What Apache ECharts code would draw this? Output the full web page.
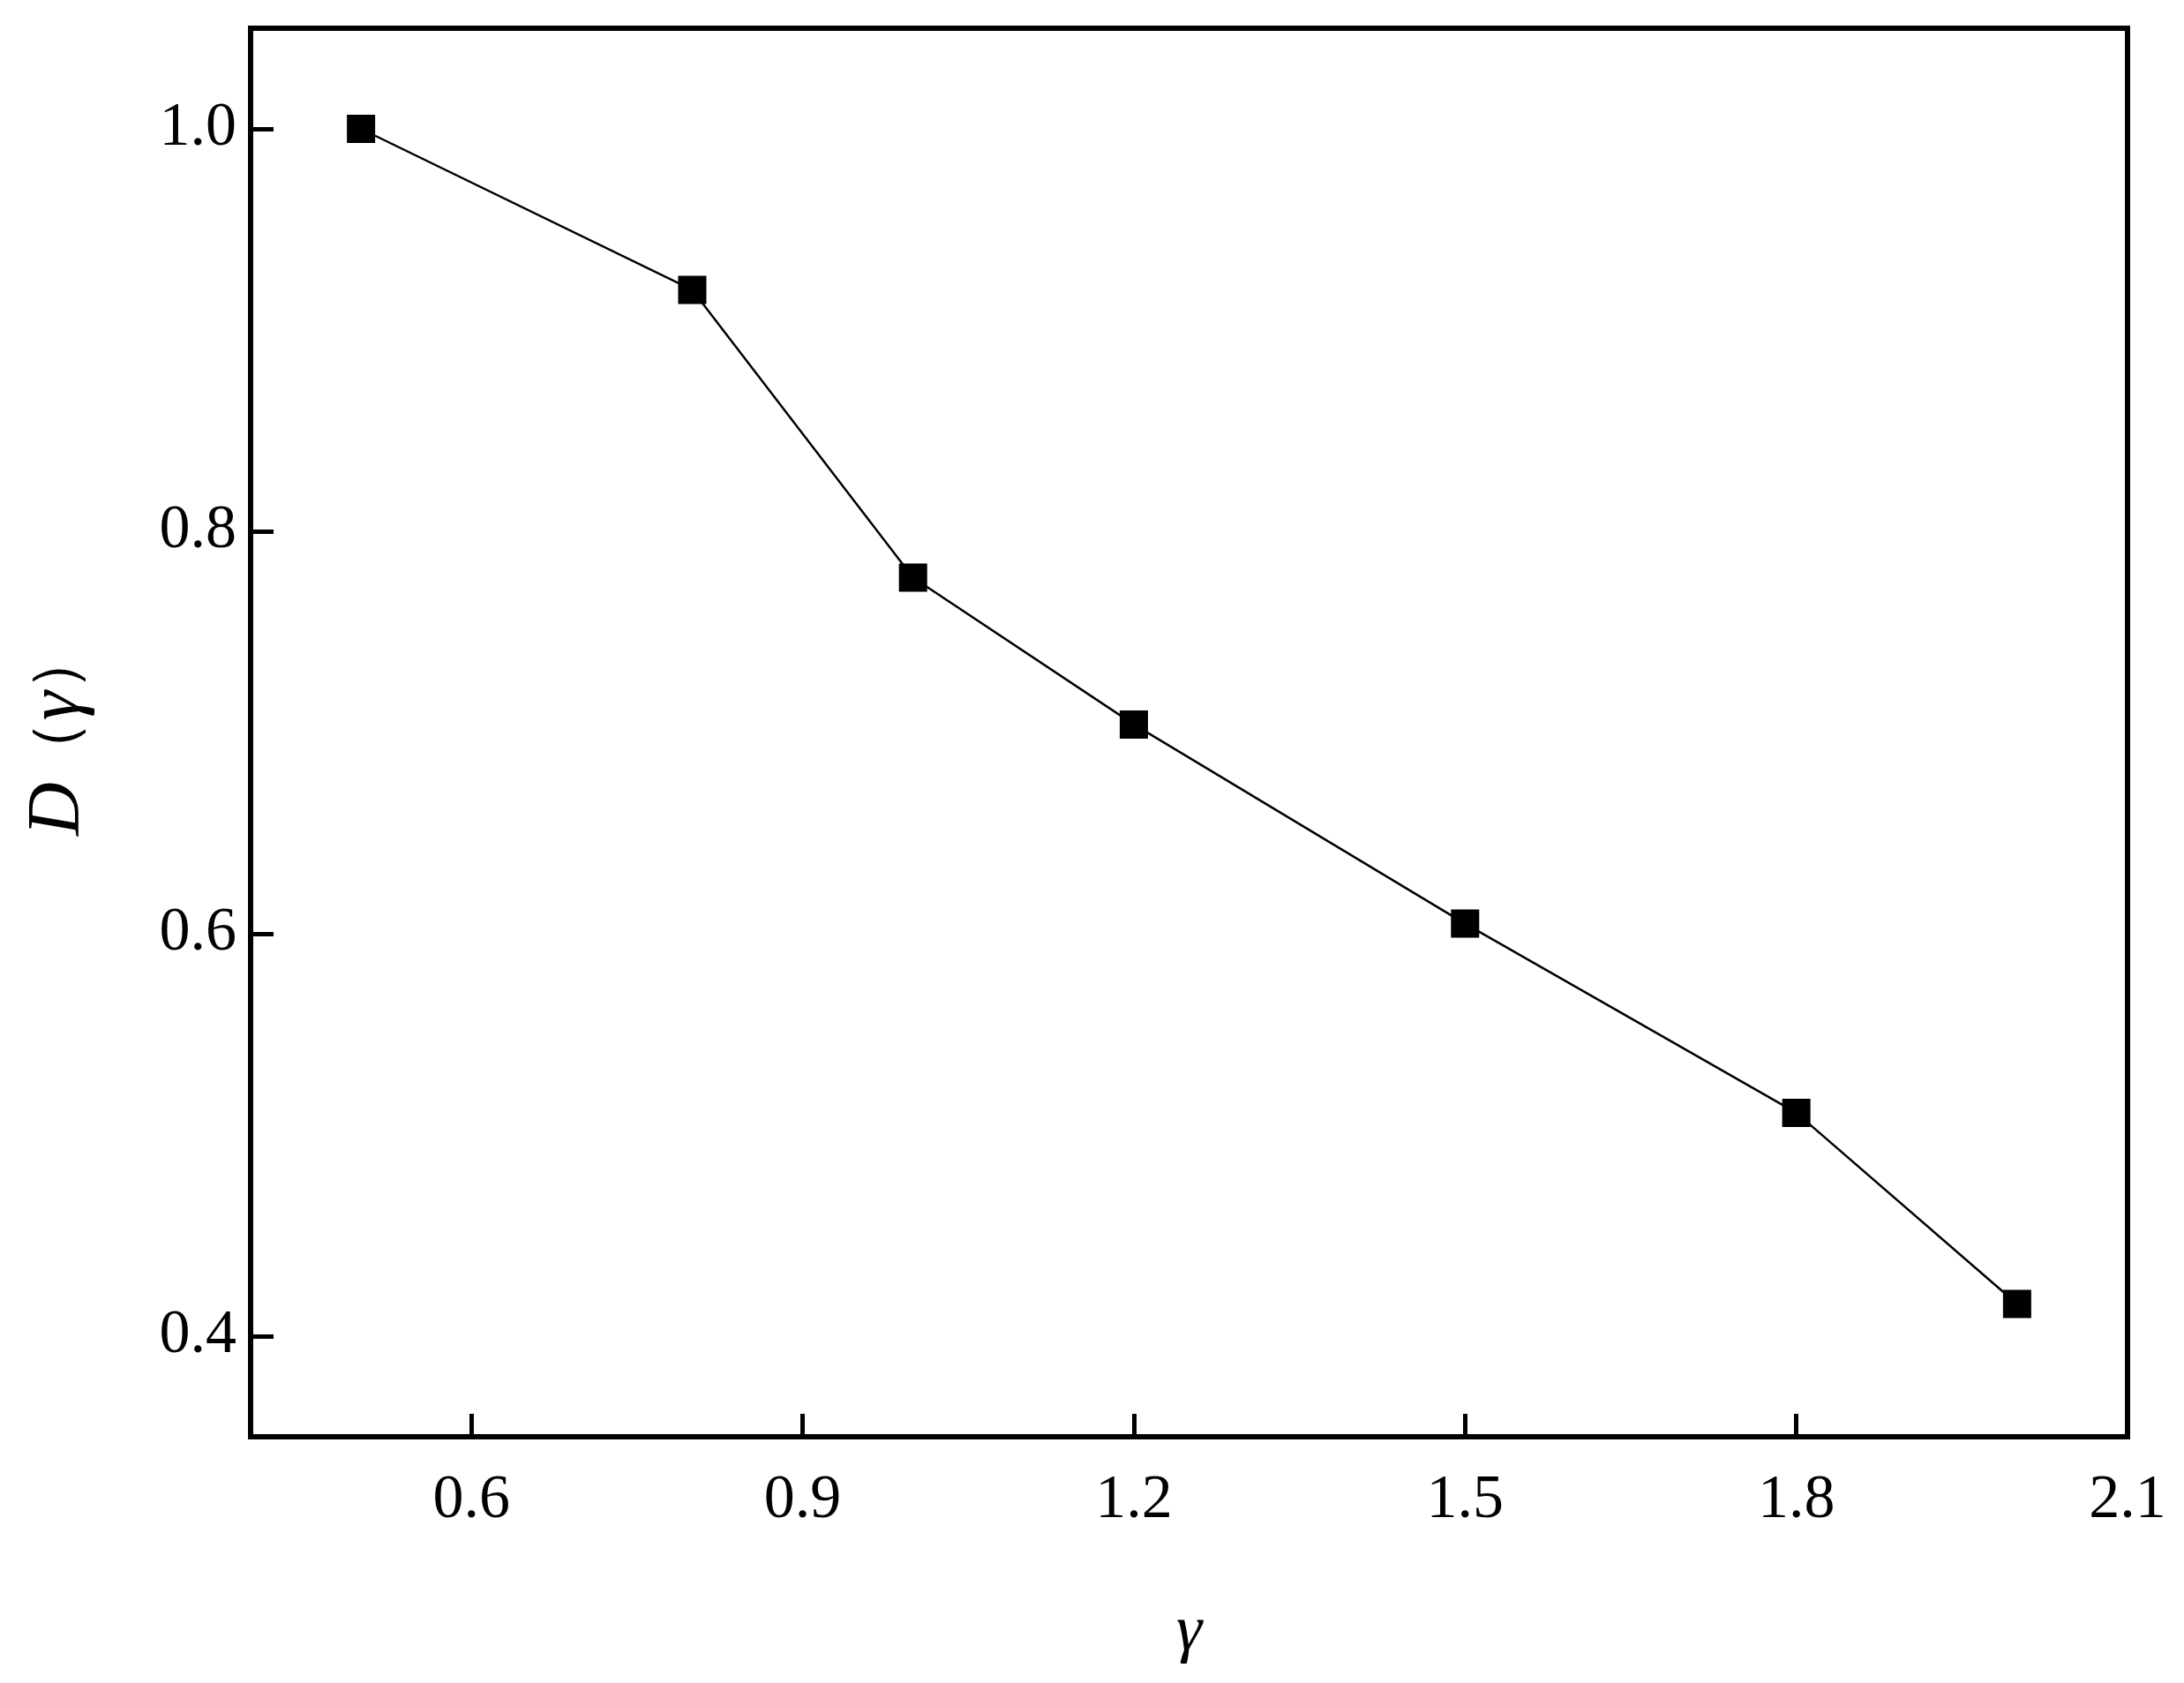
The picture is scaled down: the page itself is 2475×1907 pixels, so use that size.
<!DOCTYPE html>
<html><head><meta charset="utf-8">
<script src="https://cdn.jsdelivr.net/npm/echarts@6/dist/echarts.min.js"></script>
<style>html,body{margin:0;background:#fff}#c{width:2475px;height:1907px}</style></head>
<body><div id="c"></div>
<script>
const gammaValues = [0.5, 0.8, 1.0, 1.2, 1.5, 1.8, 2.0];
const dValues = [1.0, 0.920, 0.777, 0.704, 0.605, 0.511, 0.416];
const xTicks = [0.6, 0.9, 1.2, 1.5, 1.8, 2.1];
const yTicks = [0.4, 0.6, 0.8, 1.0];
const font = '"Liberation Serif", "Times New Roman", Times, serif';
const chart = echarts.init(document.getElementById('c'));
chart.setOption({
  animation: false,
  grid: {left: 284, right: 64, top: 32, bottom: 279, show: true, borderColor: '#000', borderWidth: 6},
  xAxis: {
    type: 'value', min: 0.4, max: 2.1,
    axisLine: {show: true, lineStyle: {color: '#000', width: 6}},
    axisTick: {show: true, inside: true, length: 26, lineStyle: {color: '#000', width: 5}, customValues: xTicks},
    axisLabel: {customValues: xTicks, formatter: v => v.toFixed(1), fontFamily: font, fontSize: 70, color: '#000', margin: 38},
    splitLine: {show: false},
    name: 'γ', nameLocation: 'middle', nameGap: 185,
    nameTextStyle: {fontFamily: font, fontSize: 74, fontStyle: 'italic', color: '#000'}
  },
  yAxis: {
    type: 'value', min: 0.35, max: 1.05,
    axisLine: {show: true, lineStyle: {color: '#000', width: 6}},
    axisTick: {show: true, inside: true, length: 26, lineStyle: {color: '#000', width: 5}, customValues: yTicks},
    axisLabel: {customValues: yTicks, formatter: v => v.toFixed(1), fontFamily: font, fontSize: 70, color: '#000', margin: 16},
    splitLine: {show: false},
    name: '{i|D}{n|（}{i|γ}{n|）}', nameLocation: 'middle', nameGap: 175,
    nameTextStyle: {fontFamily: font, fontSize: 80, color: '#000',
      rich: {i: {fontFamily: font, fontSize: 84, fontStyle: 'italic', color: '#000'},
             n: {fontFamily: font, fontSize: 70, color: '#000'}}}
  },
  series: [{
    type: 'line', data: gammaValues.map((g, i) => [g, dValues[i]]),
    symbol: 'rect', symbolSize: 32,
    lineStyle: {color: '#000', width: 2.5},
    itemStyle: {color: '#000'}
  }]
});
</script></body></html>
